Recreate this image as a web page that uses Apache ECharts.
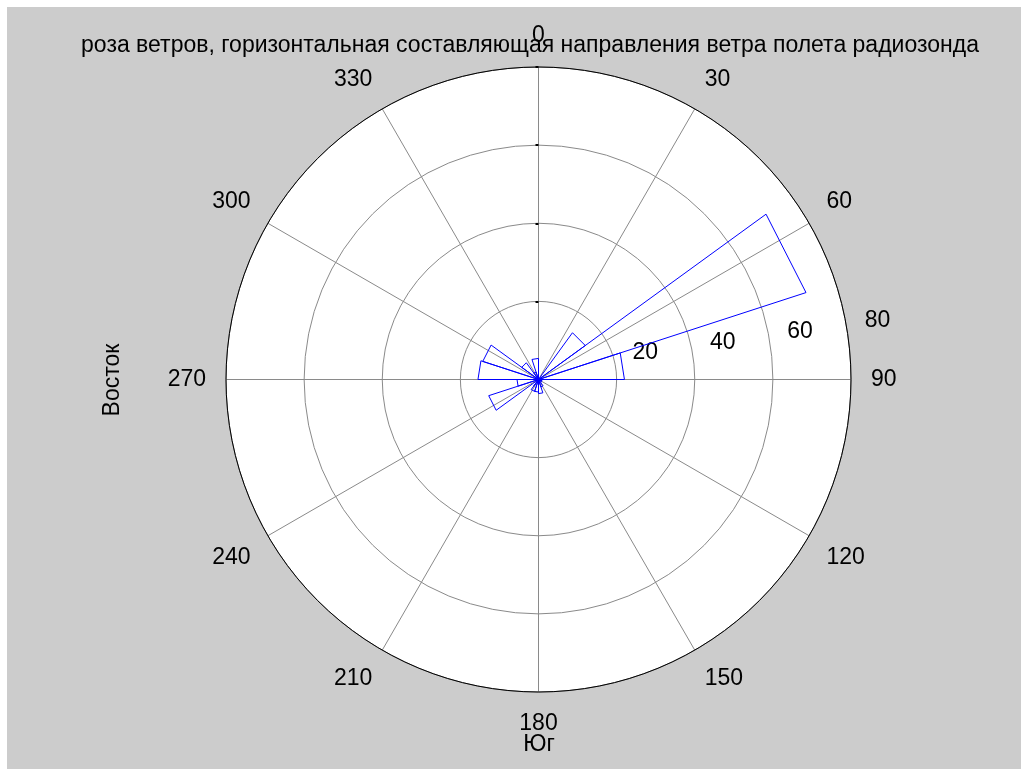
<!DOCTYPE html>
<html>
<head>
<meta charset="utf-8">
<title>роза ветров</title>
<script src="https://cdn.jsdelivr.net/npm/echarts@6/dist/echarts.min.js"></script>
<style>
  html, body { margin: 0; padding: 0; background: #ffffff; }
  #chart { width: 1021px; height: 769px; }
</style>
</head>
<body>
<div id="chart"></div>
<script>
// Wind rose: 18-degree direction bins (compass bearing, clockwise from north)
const binStart = [0, 18, 36, 54, 72, 90, 108, 126, 144, 162, 180, 198, 216, 234, 252, 270, 288, 306, 324, 342];
const binWidth = 18;
const binCounts = [0, 0, 14.8, 72, 22, 1, 1, 1, 2, 3.6, 3.2, 3.2, 2, 13.4, 5.5, 15.5, 15, 5.3, 2, 5.4];

// Axis ticks
const angleTicks = [0, 30, 60, 90, 120, 150, 180, 210, 240, 270, 300, 330];
const radiusTicks = [20, 40, 60, 80];

const titleText = 'роза ветров, горизонтальная составляющая направления ветра полета радиозонда';
const xLabelText = 'Юг';
const yLabelText = 'Восток';

const FONT = "'Liberation Sans', Arial, sans-serif";
const FS = 23;

// Each bin is an outlined wedge: origin -> outer corner -> outer corner -> origin
const roseOutline = [];
binStart.forEach(function (a, i) {
  const c = binCounts[i];
  roseOutline.push([0, a], [c, a], [c, a + binWidth], [0, a + binWidth]);
});

const chart = echarts.init(document.getElementById('chart'), null, { renderer: 'canvas' });

const R = 312.5;
const C = [538.5, 379.5];

chart.setOption({
  backgroundColor: '#ffffff',
  animation: false,
  title: {
    text: titleText,
    left: 525,
    textAlign: 'center',
    top: 29,
    textStyle: { fontFamily: FONT, fontSize: FS, fontWeight: 'normal', color: '#000' }
  },
  graphic: [
    { type: 'rect', left: 7, top: 7, z: -10, shape: { width: 1014, height: 762 }, style: { fill: '#cccccc' } },
    { type: 'text', x: 539, y: 745, style: { text: xLabelText, font: FS + 'px ' + FONT, fill: '#000', align: 'center', verticalAlign: 'middle' } },
    { type: 'text', x: 113, y: 380, rotation: Math.PI / 2, style: { text: yLabelText, font: FS + 'px ' + FONT, fill: '#000', align: 'center', verticalAlign: 'middle' } }
  ],
  polar: [
    { center: C, radius: R },
    // carries only the ring value labels, laid along a ray just above east
    { center: [568, 364], radius: R },
    // white plot face underneath the grid
    { center: C, radius: R }
  ],
  angleAxis: [
    {
      polarIndex: 0,
      type: 'value',
      min: 0,
      max: 360,
      interval: 30,
      startAngle: 90,
      clockwise: true,
      z: 2,
      axisLine: { show: true, lineStyle: { color: '#000', width: 1 } },
      axisTick: { show: false },
      splitLine: { show: true, lineStyle: { color: '#8a8a8a', width: 1 } },
      axisLabel: {
        margin: 20,
        fontFamily: FONT,
        fontSize: FS,
        color: '#000',
        formatter: function (v) { return angleTicks.indexOf(v) >= 0 ? String(v) : ''; }
      }
    },
    { polarIndex: 1, type: 'value', min: 0, max: 360, startAngle: 8, show: false },
    { polarIndex: 2, type: 'value', min: 0, max: 360, startAngle: 90, show: false }
  ],
  radiusAxis: [
    {
      polarIndex: 0,
      type: 'value',
      min: 0,
      max: 80,
      interval: 20,
      z: 2,
      axisLine: { show: false },
      axisTick: { show: true, length: 3, lineStyle: { color: '#000', width: 2 } },
      axisLabel: { show: false },
      splitLine: { show: true, lineStyle: { color: '#8a8a8a', width: 1 } },
      splitArea: { show: false }
    },
    {
      polarIndex: 1,
      type: 'value',
      min: 0,
      max: 80,
      interval: 20,
      z: 2,
      axisLine: { show: false },
      axisTick: { show: false },
      splitLine: { show: false },
      splitArea: { show: false },
      axisLabel: {
        margin: 0,
        align: 'center',
        verticalAlign: 'middle',
        fontFamily: FONT,
        fontSize: FS,
        color: '#000',
        formatter: function (v) { return radiusTicks.indexOf(v) >= 0 ? String(v) : ''; }
      }
    },
    {
      polarIndex: 2,
      type: 'value',
      min: 0,
      max: 80,
      z: 0,
      axisLine: { show: false },
      axisTick: { show: false },
      axisLabel: { show: false },
      splitLine: { show: false },
      splitArea: { show: true, areaStyle: { color: ['#ffffff'] } }
    }
  ],
  series: [
    {
      type: 'line',
      coordinateSystem: 'polar',
      polarIndex: 0,
      data: roseOutline,
      showSymbol: false,
      symbol: 'none',
      lineStyle: { color: '#0000ff', width: 1 },
      z: 5
    }
  ]
});
</script>
</body>
</html>
